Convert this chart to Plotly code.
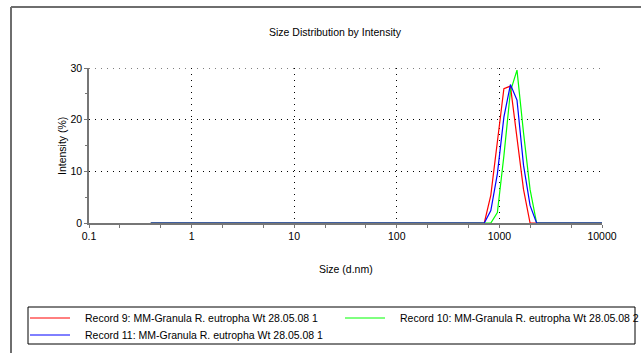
import plotly.graph_objects as go

# Size classes (d.nm) of the distribution
sizes_nm = [
    0.4000, 0.4632, 0.5365, 0.6213, 0.7195, 0.8332, 0.9650, 1.117, 1.294, 1.499,
    1.736, 2.010, 2.328, 2.696, 3.122, 3.615, 4.187, 4.849, 5.615, 6.503,
    7.531, 8.721, 10.10, 11.70, 13.54, 15.69, 18.17, 21.04, 24.36, 28.21,
    32.67, 37.84, 43.82, 50.75, 58.77, 68.06, 78.82, 91.28, 105.7, 122.4,
    141.8, 164.2, 190.1, 220.2, 255.0, 295.3, 342.0, 396.1, 458.7, 531.2,
    615.1, 712.4, 825.0, 955.4, 1106, 1281, 1484, 1718, 1990, 2305,
    2669, 3091, 3580, 4145, 4801, 5560, 6439, 7456, 8635, 10000,
]

# Intensity (%) per size class
record9 = [
    0, 0, 0, 0, 0, 0, 0, 0, 0, 0,
    0, 0, 0, 0, 0, 0, 0, 0, 0, 0,
    0, 0, 0, 0, 0, 0, 0, 0, 0, 0,
    0, 0, 0, 0, 0, 0, 0, 0, 0, 0,
    0, 0, 0, 0, 0, 0, 0, 0, 0, 0,
    0, 0, 5.4, 16.0, 26.0, 26.5, 17.0, 6.5, 0, 0,
    0, 0, 0, 0, 0, 0, 0, 0, 0, 0,
]
record10 = [
    0, 0, 0, 0, 0, 0, 0, 0, 0, 0,
    0, 0, 0, 0, 0, 0, 0, 0, 0, 0,
    0, 0, 0, 0, 0, 0, 0, 0, 0, 0,
    0, 0, 0, 0, 0, 0, 0, 0, 0, 0,
    0, 0, 0, 0, 0, 0, 0, 0, 0, 0,
    0, 0, 0, 2.0, 13.0, 25.5, 29.6, 17.5, 6.5, 0,
    0, 0, 0, 0, 0, 0, 0, 0, 0, 0,
]
record11 = [
    0, 0, 0, 0, 0, 0, 0, 0, 0, 0,
    0, 0, 0, 0, 0, 0, 0, 0, 0, 0,
    0, 0, 0, 0, 0, 0, 0, 0, 0, 0,
    0, 0, 0, 0, 0, 0, 0, 0, 0, 0,
    0, 0, 0, 0, 0, 0, 0, 0, 0, 0,
    0, 0, 2.4, 9.5, 20.5, 26.8, 23.8, 11.2, 3.4, 0,
    0, 0, 0, 0, 0, 0, 0, 0, 0, 0,
]

record_names = [
    "Record 9: MM-Granula R. eutropha Wt 28.05.08 1",
    "Record 10: MM-Granula R. eutropha Wt 28.05.08 2",
    "Record 11: MM-Granula R. eutropha Wt 28.05.08 1",
]
record_colors = ["#ff0000", "#00ff00", "#0000ff"]

x_tick_vals = [0.1, 1, 10, 100, 1000, 10000]
x_tick_text = ["0.1", "1", "10", "100", "1000", "10000"]
y_tick_vals = [0, 10, 20, 30]

W, H = 641, 353
ML, MR, MT, MB = 89, 39, 68, 130
PW, PH = W - ML - MR, H - MT - MB
FONT = "Liberation Sans, Arial, sans-serif"
FS = 10.5
AXIS_GREY = "#767676"
GRID_DASH = "1px,5px"

# legend entry slots (left edge of key line, row centre), in page pixels
legend_slots = [(30, 318), (345, 318), (30, 335)]
KEY_LEN, KEY_GAP = 40, 13


def fx(p):
    """pixel x -> paper x"""
    return (p - ML) / PW


def fy(p):
    """pixel y -> paper y"""
    return (H - MB - p) / PH


fig = go.Figure()
for name, vals, col in zip(record_names, [record9, record10, record11], record_colors):
    fig.add_trace(go.Scatter(
        x=sizes_nm, y=vals, mode="lines", name=name,
        line=dict(color=col, width=1.2), showlegend=False,
    ))

fig.update_layout(
    width=W, height=H,
    margin=dict(l=ML, r=MR, t=MT, b=MB, autoexpand=False),
    paper_bgcolor="white", plot_bgcolor="white",
    font=dict(family=FONT, size=FS, color="black"),
    showlegend=False,
    xaxis=dict(
        type="log", range=[-1, 4],
        tickvals=x_tick_vals, ticktext=x_tick_text,
        ticks="outside", ticklen=3, tickcolor=AXIS_GREY,
        minor=dict(ticks="outside", ticklen=3, tickcolor=AXIS_GREY, showgrid=False),
        showline=True, linecolor=AXIS_GREY, linewidth=1.5,
        showgrid=True, gridcolor="black", gridwidth=1, griddash=GRID_DASH,
        zeroline=False, tickfont=dict(size=FS),
    ),
    yaxis=dict(
        range=[0, 30], tickvals=y_tick_vals,
        ticks="outside", ticklen=3, tickcolor=AXIS_GREY,
        minor=dict(dtick=5, ticks="outside", ticklen=2, tickcolor=AXIS_GREY, showgrid=False),
        showline=True, linecolor=AXIS_GREY, linewidth=1.5,
        showgrid=True, gridcolor="black", gridwidth=1, griddash=GRID_DASH,
        zeroline=False, tickfont=dict(size=FS),
    ),
)

# top grid line at the upper end of the y range
fig.add_shape(type="line", xref="paper", yref="y", x0=0, x1=1, y0=30, y1=30,
              line=dict(color="black", width=1, dash=GRID_DASH))

fig.add_annotation(text="Size Distribution by Intensity", x=fx(335), y=fy(32),
                   xref="paper", yref="paper", showarrow=False,
                   xanchor="center", yanchor="middle", font=dict(size=FS))
fig.add_annotation(text="Intensity (%)", textangle=-90, x=fx(62), y=fy(146),
                   xref="paper", yref="paper", showarrow=False,
                   xanchor="center", yanchor="middle", font=dict(size=FS))
fig.add_annotation(text="Size (d.nm)", x=fx(346), y=fy(269),
                   xref="paper", yref="paper", showarrow=False,
                   xanchor="center", yanchor="middle", font=dict(size=FS))

# outer frame (left and top edges)
fig.add_shape(type="line", xref="paper", yref="paper",
              x0=fx(11), y0=fy(7), x1=fx(11), y1=fy(360),
              line=dict(color="#6e6e6e", width=2))
fig.add_shape(type="line", xref="paper", yref="paper",
              x0=fx(11), y0=fy(7), x1=fx(650), y1=fy(7),
              line=dict(color="#6e6e6e", width=2))

# legend: boxed key of the three records
fig.add_shape(type="rect", xref="paper", yref="paper",
              x0=fx(28), y0=fy(307), x1=fx(635), y1=fy(344),
              line=dict(color="black", width=1))
for name, col, (lx, ly) in zip(record_names, record_colors, legend_slots):
    fig.add_shape(type="line", xref="paper", yref="paper",
                  x0=fx(lx), x1=fx(lx + KEY_LEN), y0=fy(ly), y1=fy(ly),
                  line=dict(color=col, width=1))
    fig.add_annotation(text=name, x=fx(lx + KEY_LEN + KEY_GAP), y=fy(ly),
                       xref="paper", yref="paper", showarrow=False,
                       xanchor="left", yanchor="middle",
                       font=dict(size=FS, color="black"))

fig.write_html("out.html")
